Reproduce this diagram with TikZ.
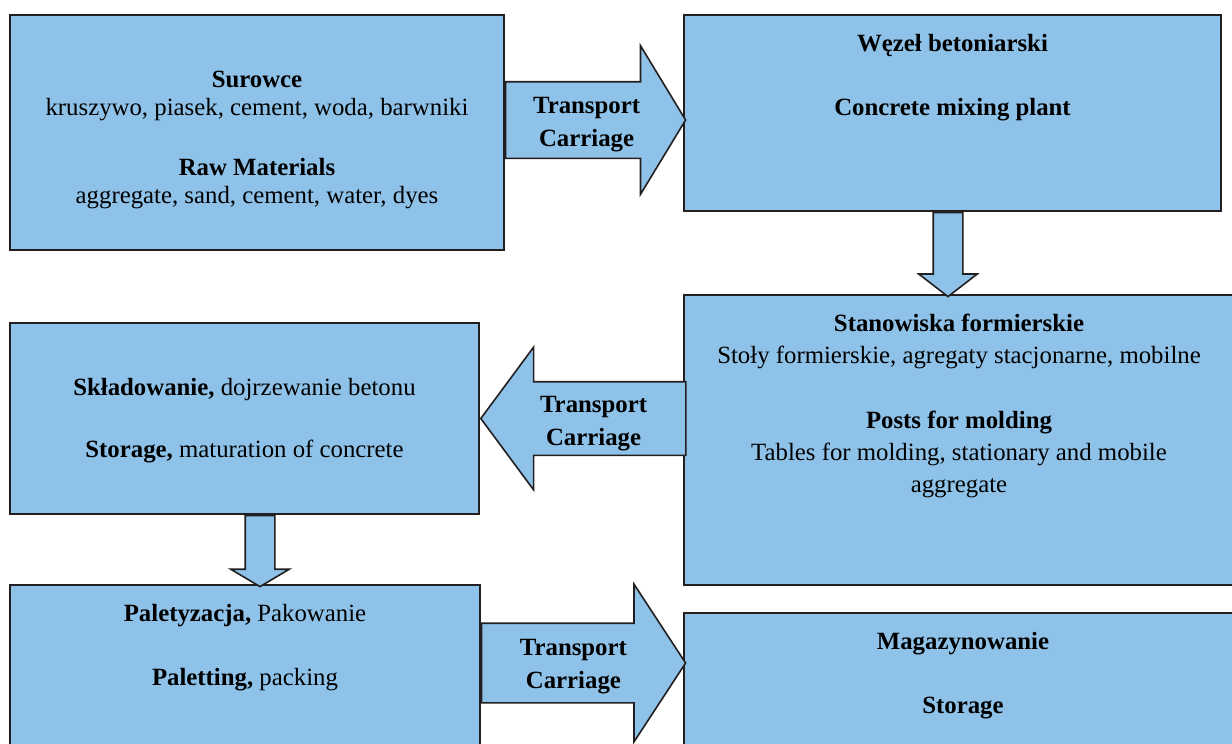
\documentclass[tikz,border=0pt]{standalone}
\usepackage{fontspec}
\setmainfont{Liberation Serif}
\usetikzlibrary{shapes.arrows, calc, positioning}
\definecolor{boxblue}{RGB}{142,194,232}
\definecolor{edgedark}{RGB}{35,31,32}

\begin{document}
\begin{tikzpicture}[
    x=1pt, y=-1pt,
    font=\fontsize{24.8}{32}\selectfont,
    box/.style = {rectangle, draw=edgedark, fill=boxblue, line width=1.6pt,
                  align=center, inner sep=0pt},
    txt/.style = {align=center, inner sep=0pt},
    blk/.style = {single arrow, draw=edgedark, fill=boxblue, line width=1.6pt,
                  inner sep=0pt},
    lbl/.style = {align=center, inner sep=0pt, font=\fontsize{24.8}{33}\selectfont\bfseries},
]
\useasboundingbox (0,0) rectangle (1232,744);
\clip (0,0) rectangle (1232,744);

% ---- top row: raw materials -> mixing plant ---------------------------------
\node[box, minimum width=494pt, minimum height=235pt] (raw) at (257,132.5) {};
\node[txt, font=\fontsize{24.8}{28}\selectfont] (raw-t) at ($(raw.center)+(0,7)$) {%
  \textbf{Surowce}\\
  kruszywo, piasek, cement, woda, barwniki\\[32pt]
  \textbf{Raw Materials}\\
  aggregate, sand, cement, water, dyes};
\node[box, minimum width=537pt, minimum height=196pt] (plant) at (952.5,113) {};
\node[txt, below=20pt of plant.north] (plant-t) {%
  \textbf{Węzeł betoniarski}\\[32pt]
  \textbf{Concrete mixing plant}};

\node[blk, minimum height=180pt, inner ysep=37.5pt, single arrow head extend=36pt,
      single arrow tip angle=117.5, anchor=tail] (tr1) at (raw.east |- 0,120) {};
\node[lbl] (tr1-l) at ($(tr1.tail)!0.45!(tr1.tip)+(0,5)$) {Transport\\Carriage};

% ---- middle row: molding posts -> storage ------------------------------------
\node[box, minimum width=550pt, minimum height=290pt] (posts) at (959,440) {};
\node[txt, below=20pt of posts.north] (posts-t) {%
  \textbf{Stanowiska formierskie}\\
  Stoły formierskie, agregaty stacjonarne, mobilne\\[33pt]
  \textbf{Posts for molding}\\
  Tables for molding, stationary and mobile\\
  aggregate};
\node[box, minimum width=469pt, minimum height=191pt] (store) at (244.5,418.5) {};
\node[txt] (store-t) at ($(store.center)+(0,2)$) {%
  \textbf{Składowanie,} dojrzewanie betonu\\[30pt]
  \textbf{Storage,} maturation of concrete};

\node[blk, shape border rotate=270, minimum height=84pt, inner sep=14pt,
      single arrow head extend=14.5pt, single arrow tip angle=104.6,
      anchor=tail] (dn1) at (plant.south -| 948,0) {};
\node[blk, shape border rotate=180, minimum height=205pt, inner ysep=36pt,
      single arrow head extend=34.5pt, single arrow tip angle=107,
      anchor=tip] (tr2) at (store.east) {};
\node[lbl] (tr2-l) at ($(tr2.tail)!0.45!(tr2.tip)+(0,5)$) {Transport\\Carriage};

% ---- bottom row: palletising -> warehouse -------------------------------------
\node[box, minimum width=470pt, minimum height=205pt] (pallet) at (245,687.5) {};
\node[txt, below=20pt of pallet.north] (pallet-t) {%
  \textbf{Paletyzacja,} Pakowanie\\[32pt]
  \textbf{Paletting,} packing};
\node[box, minimum width=558pt, minimum height=177pt] (mag) at (963,701.5) {};
\node[txt, below=20pt of mag.north] (mag-t) {%
  \textbf{Magazynowanie}\\[32pt]
  \textbf{Storage}};

\node[blk, shape border rotate=270, minimum height=71pt, inner sep=14pt,
      single arrow head extend=14.5pt, single arrow tip angle=118.6,
      anchor=tail] (dn2) at (store.south -| 260,0) {};
\node[blk, minimum height=204pt, inner ysep=39pt, single arrow head extend=39pt,
      single arrow tip angle=113.6, anchor=tail] (tr3) at (pallet.east |- 0,663) {};
\node[lbl] (tr3-l) at ($(tr3.tail)!0.45!(tr3.tip)+(0,4)$) {Transport\\Carriage};
\end{tikzpicture}
\end{document}
